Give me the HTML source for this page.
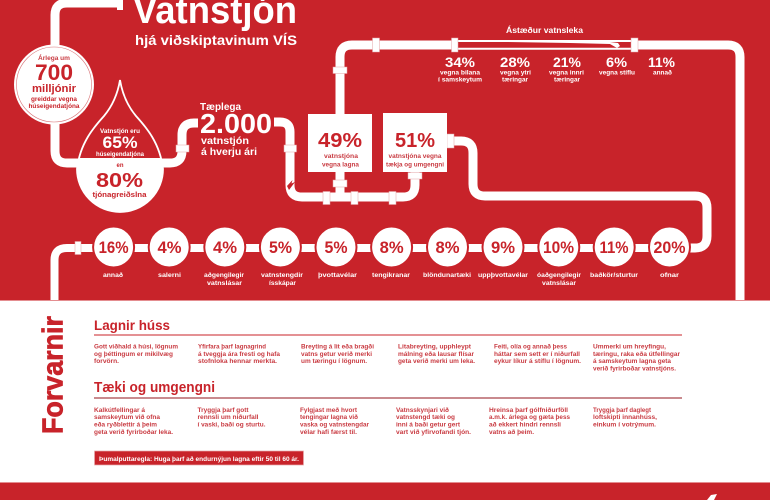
<!DOCTYPE html>
<html lang="is"><head><meta charset="utf-8"><title>Vatnstjón</title>
<style>
html,body{margin:0;padding:0;width:770px;height:500px;overflow:hidden;background:#fff}
svg{display:block;font-family:"Liberation Sans",sans-serif;font-weight:700}
.p{fill:none;stroke:#fff;stroke-width:9}
.w{fill:#fff}.r{fill:#c8232a}
.m{text-anchor:middle}
.t{fill:#c93b42;font-size:6.4px}
.s{font-size:6.4px}
</style></head><body>
<svg width="770" height="500" viewBox="0 0 770 500" xmlns="http://www.w3.org/2000/svg">
<defs><clipPath id="low"><rect x="60" y="158" width="120" height="60"/></clipPath></defs>
<rect width="770" height="500" fill="#fff"/>
<rect width="770" height="300" fill="#c8232a"/>
<rect y="300" width="770" height="1" fill="#e48d90"/>
<rect y="482" width="770" height="18" fill="#c8232a"/>
<rect y="482" width="770" height="1" fill="#e48d90"/>
<path class="w" d="M707 500 L711 495 L717 494 L714 500Z"/>

<!-- pipes -->
<path class="p" d="M118 3H67Q55 3 55 15V151Q55 163 67 163H170Q182 163 182 151V135Q182 123 194 123H198"/>
<path class="p" d="M274 122H280Q290 122 290 132V185Q290 197 302 197H403Q415 197 415 185V172"/>
<path class="p" d="M340 172V197"/>
<path class="p" d="M340 114V57Q340 45 352 45H452"/>
<path class="p" d="M636 45H728Q740 45 740 57V300"/>
<path class="p" d="M450 141H461Q473 141 473 153V184Q473 196 485 196H695Q707 196 707 208V236Q707 248 695 248H690"/>
<path class="p" style="stroke-width:8" d="M690 248H67Q54.500 248 54.500 260V300"/>
<path d="M458 41H631M458 48.700H631" fill="none" stroke="#fff" stroke-width="2"/>
<path class="w" d="M505 41L540 40.500L610 42L618 43L620 46L617 48L610 44L570 43L505 42Z"/>
<path class="r" d="M287 186L292.500 180L291.500 183.500L295 182L289 190Z"/>

<!-- collars -->
<g class="w">
<rect x="117" y="0" width="6" height="10"/>
<rect x="176" y="145" width="13" height="7"/>
<rect x="284" y="145" width="12.500" height="7"/>
<rect x="323" y="191.500" width="7" height="13"/>
<rect x="351" y="191.500" width="7" height="13"/>
<rect x="389" y="191.500" width="7" height="13"/>
<rect x="333" y="180" width="14" height="7"/>
<rect x="408" y="172.500" width="14" height="6.500"/>
<rect x="333" y="67" width="14" height="6.500"/>
<rect x="372.500" y="38" width="7" height="14"/>
<rect x="451.500" y="38" width="6.500" height="14"/>
<rect x="631" y="38" width="7" height="14"/>
<rect x="447" y="134" width="7" height="14"/>
<rect x="75" y="241.500" width="6" height="13"/>
</g>
<g fill="none" stroke="#e3a3a6" stroke-width=".5">
<rect x="176" y="145" width="13" height="7"/><rect x="284" y="145" width="12.500" height="7"/>
<rect x="323" y="191.500" width="7" height="13"/><rect x="351" y="191.500" width="7" height="13"/><rect x="389" y="191.500" width="7" height="13"/>
<rect x="333" y="180" width="14" height="7"/><rect x="408" y="172.500" width="14" height="6.500"/><rect x="333" y="67" width="14" height="6.500"/>
<rect x="372.500" y="38" width="7" height="14"/><rect x="451.500" y="38" width="6.500" height="14"/><rect x="631" y="38" width="7" height="14"/>
<rect x="447" y="134" width="7" height="14"/><rect x="75" y="241.500" width="6" height="13"/>
</g>

<!-- title -->
<text x="133" y="23" class="w" font-size="38" textLength="164" lengthAdjust="spacingAndGlyphs">Vatnstjón</text>
<text x="135" y="45" class="w" font-size="14" textLength="162" lengthAdjust="spacingAndGlyphs">hjá viðskiptavinum VÍS</text>

<!-- circle 700 -->
<circle cx="54" cy="84.500" r="40" class="w"/>
<circle cx="54" cy="84.500" r="37.500" fill="none" stroke="#d87276" stroke-width=".6"/>
<g class="r">
<text x="54" y="60" class="m" font-size="6.500" textLength="32" lengthAdjust="spacingAndGlyphs" fill="#c93b42">Árlega um</text>
<text x="54" y="80" class="m" font-size="22" textLength="38" lengthAdjust="spacingAndGlyphs">700</text>
<text x="54" y="92" class="m" font-size="11" textLength="44" lengthAdjust="spacingAndGlyphs">milljónir</text>
<text x="54" y="101" class="m" font-size="6.500" textLength="46" lengthAdjust="spacingAndGlyphs">greiddar vegna</text>
<text x="54" y="108" class="m" font-size="6.500" textLength="51" lengthAdjust="spacingAndGlyphs">húseigendatjóna</text>
</g>

<!-- drop -->
<path d="M120 80C122 92 126 104 136 116C146 127 160 143 163 169A43 43 0 0 1 77 169C80 143 94 127 104 116C114 104 118 92 120 80Z" fill="#c8232a" stroke="#fff" stroke-width="1.800"/>
<path d="M120 80C122 92 126 104 136 116C146 127 160 143 163 169A43 43 0 0 1 77 169C80 143 94 127 104 116C114 104 118 92 120 80Z" fill="#fff" clip-path="url(#low)"/>
<g class="w">
<text x="120" y="133" class="m" font-size="6.200" textLength="40" lengthAdjust="spacingAndGlyphs">Vatnstjón eru</text>
<text x="120" y="148" class="m" font-size="17" textLength="35" lengthAdjust="spacingAndGlyphs">65%</text>
<text x="120" y="156" class="m" font-size="6" textLength="48" lengthAdjust="spacingAndGlyphs">húseigendatjóna</text>
</g>
<g class="r">
<text x="120" y="167" class="m" font-size="6" textLength="7" lengthAdjust="spacingAndGlyphs">en</text>
<text x="119.500" y="187" class="m" font-size="20" textLength="47" lengthAdjust="spacingAndGlyphs">80%</text>
<text x="119.500" y="197" class="m" font-size="7.500" textLength="54" lengthAdjust="spacingAndGlyphs">tjónagreiðslna</text>
</g>

<!-- 2000 -->
<g class="w">
<text x="200" y="110" font-size="10" textLength="41" lengthAdjust="spacingAndGlyphs">Tæplega</text>
<text x="200" y="133" font-size="28" textLength="72" lengthAdjust="spacingAndGlyphs">2.000</text>
<text x="201" y="144" font-size="10" textLength="48" lengthAdjust="spacingAndGlyphs">vatnstjón</text>
<text x="201" y="155" font-size="10" textLength="56" lengthAdjust="spacingAndGlyphs">á hverju ári</text>
</g>

<!-- boxes -->
<rect x="308" y="114" width="64" height="58" class="w"/>
<rect x="383" y="113" width="64" height="59" class="w"/>
<g class="r">
<text x="340" y="147" class="m" font-size="20" textLength="44" lengthAdjust="spacingAndGlyphs">49%</text>
<text x="341" y="158" class="m" font-size="6" textLength="34" lengthAdjust="spacingAndGlyphs" fill="#c93b42">vatnstjóna</text>
<text x="340.500" y="166.500" class="m" font-size="6" textLength="37" lengthAdjust="spacingAndGlyphs" fill="#c93b42">vegna lagna</text>
<text x="415" y="147" class="m" font-size="20" textLength="40" lengthAdjust="spacingAndGlyphs">51%</text>
<text x="415" y="158" class="m" font-size="6" textLength="53" lengthAdjust="spacingAndGlyphs" fill="#c93b42">vatnstjóna vegna</text>
<text x="415" y="166.500" class="m" font-size="6" textLength="58" lengthAdjust="spacingAndGlyphs" fill="#c93b42">tækja og umgengni</text>
</g>

<!-- causes -->
<g class="w">
<text x="544.500" y="33" class="m" font-size="8" textLength="77" lengthAdjust="spacingAndGlyphs">Ástæður vatnsleka</text>
<text x="460" y="67" class="m" font-size="14" textLength="30" lengthAdjust="spacingAndGlyphs">34%</text>
<text x="515" y="67" class="m" font-size="14" textLength="30" lengthAdjust="spacingAndGlyphs">28%</text>
<text x="567" y="67" class="m" font-size="14" textLength="28" lengthAdjust="spacingAndGlyphs">21%</text>
<text x="616.500" y="67" class="m" font-size="14" textLength="21" lengthAdjust="spacingAndGlyphs">6%</text>
<text x="661.500" y="67" class="m" font-size="14" textLength="27" lengthAdjust="spacingAndGlyphs">11%</text>
<g class="s">
<text x="460" y="74.500" class="m" textLength="40" lengthAdjust="spacingAndGlyphs">vegna bilana</text>
<text x="460" y="81.500" class="m" textLength="44" lengthAdjust="spacingAndGlyphs">í samskeytum</text>
<text x="515.500" y="74.500" class="m" textLength="31" lengthAdjust="spacingAndGlyphs">vegna ytri</text>
<text x="515" y="81.500" class="m" textLength="26" lengthAdjust="spacingAndGlyphs">tæringar</text>
<text x="566.500" y="74.500" class="m" textLength="35" lengthAdjust="spacingAndGlyphs">vegna innri</text>
<text x="567" y="81.500" class="m" textLength="26" lengthAdjust="spacingAndGlyphs">tæringar</text>
<text x="617" y="74.500" class="m" textLength="36" lengthAdjust="spacingAndGlyphs">vegna stíflu</text>
<text x="662.500" y="74.500" class="m" textLength="19" lengthAdjust="spacingAndGlyphs">annað</text>
</g>
</g>

<!-- row circles -->
<g class="w" stroke="#c8232a" stroke-width="2">
<circle cx="113.600" cy="247" r="20.500"/><circle cx="169.200" cy="247" r="20.500"/><circle cx="224.800" cy="247" r="20.500"/><circle cx="280.400" cy="247" r="20.500"/><circle cx="336" cy="247" r="20.500"/><circle cx="391.600" cy="247" r="20.500"/><circle cx="447.500" cy="247" r="20.500"/><circle cx="503" cy="247" r="20.500"/><circle cx="558.800" cy="247" r="20.500"/><circle cx="614.200" cy="247" r="20.500"/><circle cx="669.500" cy="247" r="20.500"/>
</g>
<g class="r m" font-size="17">
<text x="113.600" y="253" textLength="30" lengthAdjust="spacingAndGlyphs">16%</text>
<text x="169.500" y="253" textLength="24" lengthAdjust="spacingAndGlyphs">4%</text>
<text x="225" y="253" textLength="24" lengthAdjust="spacingAndGlyphs">4%</text>
<text x="280.500" y="253" textLength="23" lengthAdjust="spacingAndGlyphs">5%</text>
<text x="336" y="253" textLength="23" lengthAdjust="spacingAndGlyphs">5%</text>
<text x="391.600" y="253" textLength="24" lengthAdjust="spacingAndGlyphs">8%</text>
<text x="447.500" y="253" textLength="24" lengthAdjust="spacingAndGlyphs">8%</text>
<text x="503" y="253" textLength="24" lengthAdjust="spacingAndGlyphs">9%</text>
<text x="558.500" y="253" textLength="31" lengthAdjust="spacingAndGlyphs">10%</text>
<text x="614" y="253" textLength="29" lengthAdjust="spacingAndGlyphs">11%</text>
<text x="669.500" y="253" textLength="32" lengthAdjust="spacingAndGlyphs">20%</text>
</g>
<g class="w m s">
<text x="113" y="277" textLength="20" lengthAdjust="spacingAndGlyphs">annað</text>
<text x="169.500" y="277" textLength="23" lengthAdjust="spacingAndGlyphs">salerni</text>
<text x="224" y="277" textLength="40" lengthAdjust="spacingAndGlyphs">aðgengilegir</text>
<text x="224.500" y="285" textLength="35" lengthAdjust="spacingAndGlyphs">vatnslásar</text>
<text x="282" y="277" textLength="42" lengthAdjust="spacingAndGlyphs">vatnstengdir</text>
<text x="282.500" y="285" textLength="27" lengthAdjust="spacingAndGlyphs">ísskápar</text>
<text x="337.500" y="277" textLength="39" lengthAdjust="spacingAndGlyphs">þvottavélar</text>
<text x="391" y="277" textLength="38" lengthAdjust="spacingAndGlyphs">tengikranar</text>
<text x="447" y="277" textLength="48" lengthAdjust="spacingAndGlyphs">blöndunartæki</text>
<text x="503" y="277" textLength="50" lengthAdjust="spacingAndGlyphs">uppþvottavélar</text>
<text x="559" y="277" textLength="44" lengthAdjust="spacingAndGlyphs">óaðgengilegir</text>
<text x="559" y="285" textLength="34" lengthAdjust="spacingAndGlyphs">vatnslásar</text>
<text x="614" y="277" textLength="48" lengthAdjust="spacingAndGlyphs">baðkör/sturtur</text>
<text x="669.500" y="277" textLength="19" lengthAdjust="spacingAndGlyphs">ofnar</text>
</g>

<!-- bottom -->
<text transform="translate(62.500 434) rotate(-90)" class="r" font-size="29" stroke="#c8232a" stroke-width=".7" textLength="118" lengthAdjust="spacingAndGlyphs">Forvarnir</text>
<text x="94" y="330" class="r" font-size="14" textLength="76" lengthAdjust="spacingAndGlyphs">Lagnir húss</text>
<rect x="94" y="334.500" width="588" height="1" fill="#c8232a"/>
<text x="94" y="392" class="r" font-size="15" textLength="121" lengthAdjust="spacingAndGlyphs">Tæki og umgengni</text>
<rect x="94" y="397" width="588" height="2" fill="#c98a8e"/>

<g class="t">
<text x="94" y="348.500" textLength="84" lengthAdjust="spacingAndGlyphs">Gott viðhald á húsi, lögnum</text>
<text x="94" y="356" textLength="79" lengthAdjust="spacingAndGlyphs">og þéttingum er mikilvæg</text>
<text x="94" y="363" textLength="25" lengthAdjust="spacingAndGlyphs">forvörn.</text>
<text x="198" y="348.500" textLength="68" lengthAdjust="spacingAndGlyphs">Yfirfara þarf lagnagrind</text>
<text x="198" y="356" textLength="82" lengthAdjust="spacingAndGlyphs">á tveggja ára fresti og hafa</text>
<text x="198" y="363" textLength="79" lengthAdjust="spacingAndGlyphs">stofnloka hennar merkta.</text>
<text x="301" y="348.500" textLength="73" lengthAdjust="spacingAndGlyphs">Breyting á lit eða bragði</text>
<text x="301" y="356" textLength="71" lengthAdjust="spacingAndGlyphs">vatns getur verið merki</text>
<text x="301" y="363" textLength="66" lengthAdjust="spacingAndGlyphs">um tæringu í lögnum.</text>
<text x="398" y="348.500" textLength="73" lengthAdjust="spacingAndGlyphs">Litabreyting, upphleypt</text>
<text x="398" y="356" textLength="76" lengthAdjust="spacingAndGlyphs">málning eða lausar flísar</text>
<text x="398" y="363" textLength="77" lengthAdjust="spacingAndGlyphs">geta verið merki um leka.</text>
<text x="494" y="348.500" textLength="73" lengthAdjust="spacingAndGlyphs">Feiti, olía og annað þess</text>
<text x="494" y="356" textLength="86" lengthAdjust="spacingAndGlyphs">háttar sem sett er í niðurfall</text>
<text x="494" y="363" textLength="87" lengthAdjust="spacingAndGlyphs">eykur líkur á stíflu í lögnum.</text>
<text x="593" y="348.500" textLength="73" lengthAdjust="spacingAndGlyphs">Ummerki um hreyfingu,</text>
<text x="593" y="356" textLength="87" lengthAdjust="spacingAndGlyphs">tæringu, raka eða útfellingar</text>
<text x="593" y="363" textLength="78" lengthAdjust="spacingAndGlyphs">á samskeytum lagna geta</text>
<text x="593" y="370.500" textLength="83" lengthAdjust="spacingAndGlyphs">verið fyrirboðar vatnstjóns.</text>

<text x="94" y="412" textLength="51" lengthAdjust="spacingAndGlyphs">Kalkútfellingar á</text>
<text x="94" y="419" textLength="66" lengthAdjust="spacingAndGlyphs">samskeytum við ofna</text>
<text x="94" y="426.500" textLength="63" lengthAdjust="spacingAndGlyphs">eða ryðblettir á þeim</text>
<text x="94" y="434" textLength="79" lengthAdjust="spacingAndGlyphs">geta verið fyrirboðar leka.</text>
<text x="197.500" y="412" textLength="51" lengthAdjust="spacingAndGlyphs">Tryggja þarf gott</text>
<text x="197.500" y="419" textLength="61" lengthAdjust="spacingAndGlyphs">rennsli um niðurfall</text>
<text x="197.500" y="426.500" textLength="68" lengthAdjust="spacingAndGlyphs">í vaski, baði og sturtu.</text>
<text x="300" y="412" textLength="57" lengthAdjust="spacingAndGlyphs">Fylgjast með hvort</text>
<text x="300" y="419" textLength="58" lengthAdjust="spacingAndGlyphs">tengingar lagna við</text>
<text x="300" y="426.500" textLength="69" lengthAdjust="spacingAndGlyphs">vaska og vatnstengdar</text>
<text x="300" y="434" textLength="57" lengthAdjust="spacingAndGlyphs">vélar hafi færst til.</text>
<text x="396" y="412" textLength="53" lengthAdjust="spacingAndGlyphs">Vatnsskynjari við</text>
<text x="396" y="419" textLength="59" lengthAdjust="spacingAndGlyphs">vatnstengd tæki og</text>
<text x="396" y="426.500" textLength="64" lengthAdjust="spacingAndGlyphs">inni á baði getur gert</text>
<text x="396" y="434" textLength="75" lengthAdjust="spacingAndGlyphs">vart við yfirvofandi tjón.</text>
<text x="489" y="412" textLength="79" lengthAdjust="spacingAndGlyphs">Hreinsa þarf gólfniðurföll</text>
<text x="489" y="419" textLength="81" lengthAdjust="spacingAndGlyphs">a.m.k. árlega og gæta þess</text>
<text x="489" y="426.500" textLength="72" lengthAdjust="spacingAndGlyphs">að ekkert hindri rennsli</text>
<text x="489" y="434" textLength="45" lengthAdjust="spacingAndGlyphs">vatns að þeim.</text>
<text x="593" y="412" textLength="58" lengthAdjust="spacingAndGlyphs">Tryggja þarf daglegt</text>
<text x="593" y="419" textLength="64" lengthAdjust="spacingAndGlyphs">loftskipti innanhúss,</text>
<text x="593" y="426.500" textLength="63" lengthAdjust="spacingAndGlyphs">einkum í votrýmum.</text>
</g>

<rect x="94.500" y="451" width="209" height="14" fill="#c8232a" stroke="#e7a9ab" stroke-width=".7"/>
<text x="99" y="461" class="w" font-size="6.500" textLength="200" lengthAdjust="spacingAndGlyphs">Þumalputtaregla: Huga þarf að endurnýjun lagna eftir 50 til 60 ár.</text>
</svg>
</body></html>
